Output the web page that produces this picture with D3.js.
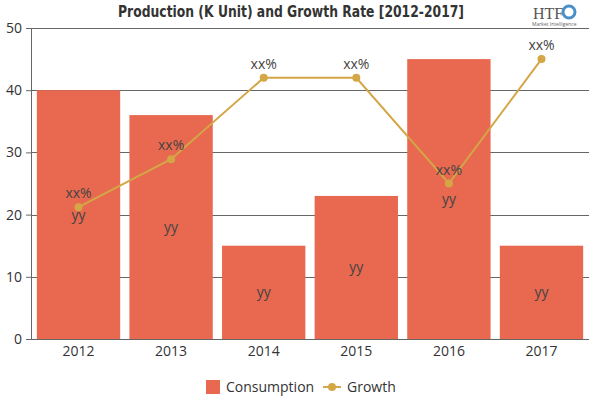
<!DOCTYPE html>
<html>
<head>
<meta charset="utf-8">
<script src="https://cdn.jsdelivr.net/npm/d3@7"></script>
<style>
  body { margin: 0; background: #fff; }
  text { font-family: "Open Sans", "Noto Sans", sans-serif; }
</style>
</head>
<body>
<svg id="chart" width="600" height="400"></svg>
<script>
var years = ['2012', '2013', '2014', '2015', '2016', '2017'];
var consumption = [40, 36, 15, 23, 45, 15];
var growth = [21.2, 28.9, 42, 42, 25, 45];
var barLabels = ['yy', 'yy', 'yy', 'yy', 'yy', 'yy'];
var growthLabels = ['xx%', 'xx%', 'xx%', 'xx%', 'xx%', 'xx%'];
var yTicks = [0, 10, 20, 30, 40, 50];

var barColor = '#e8694f';
var lineColor = '#d4a646';
var plotLeft = 31, plotRight = 589, plotTop = 28, plotBottom = 339;

var svg = d3.select('#chart');

var x = d3.scaleBand().domain(years).range([plotLeft, plotRight]).paddingInner(0.1).paddingOuter(0.063);
var y = d3.scaleLinear().domain([0, 50]).range([plotBottom, plotTop]);

// gridlines behind bars
svg.append('g').selectAll('line').data(yTicks).enter().append('line')
  .attr('x1', plotLeft).attr('x2', plotRight)
  .attr('y1', function(d){ return Math.round(y(d)) + 0.5; })
  .attr('y2', function(d){ return Math.round(y(d)) + 0.5; })
  .attr('stroke', '#666').attr('stroke-width', 1);

// bars
svg.append('g').selectAll('rect').data(consumption).enter().append('rect')
  .attr('x', function(d, i){ return x(years[i]); })
  .attr('y', function(d){ return y(d); })
  .attr('width', x.bandwidth())
  .attr('height', function(d){ return plotBottom - y(d); })
  .attr('fill', barColor);

// axes
var yAxis = svg.append('g').attr('transform', 'translate(' + plotLeft + ',0)')
  .call(d3.axisLeft(y).tickValues(yTicks).tickSize(5).tickPadding(4));
var xAxis = svg.append('g').attr('transform', 'translate(0,' + plotBottom + ')')
  .call(d3.axisBottom(x).tickSize(0).tickPadding(7));
xAxis.select('.domain').attr('d', 'M' + (plotLeft - 5) + ',0.5H' + plotRight);
[yAxis, xAxis].forEach(function(a){
  a.selectAll('path, line').attr('stroke', '#666');
  a.selectAll('text').attr('fill', '#333').style('font-size', '14px');
});

// bar value labels
svg.append('g').selectAll('text').data(consumption).enter().append('text')
  .attr('x', function(d, i){ return x(years[i]) + x.bandwidth() / 2; })
  .attr('y', function(d){ return (y(d) + plotBottom) / 2 + 5; })
  .attr('text-anchor', 'middle')
  .attr('fill', '#444').style('font-size', '14px')
  .text(function(d, i){ return barLabels[i]; });

// growth line
var line = d3.line()
  .x(function(d, i){ return x(years[i]) + x.bandwidth() / 2; })
  .y(function(d){ return y(d); });
svg.append('path').datum(growth)
  .attr('d', line).attr('fill', 'none')
  .attr('stroke', lineColor).attr('stroke-width', 2);
svg.append('g').selectAll('circle').data(growth).enter().append('circle')
  .attr('cx', function(d, i){ return x(years[i]) + x.bandwidth() / 2; })
  .attr('cy', function(d){ return y(d); })
  .attr('r', 4).attr('fill', lineColor);
svg.append('g').selectAll('text').data(growth).enter().append('text')
  .attr('x', function(d, i){ return x(years[i]) + x.bandwidth() / 2; })
  .attr('y', function(d){ return y(d) - 9; })
  .attr('text-anchor', 'middle')
  .attr('fill', '#444').style('font-size', '14px')
  .text(function(d, i){ return growthLabels[i]; });

// title
svg.append('text')
  .attr('x', 291).attr('y', 17)
  .attr('text-anchor', 'middle')
  .attr('textLength', 346).attr('lengthAdjust', 'spacingAndGlyphs')
  .style('font-family', '"DejaVu Sans Condensed", sans-serif')
  .style('font-weight', 'bold').style('font-size', '15px')
  .attr('fill', '#333')
  .text('Production (K Unit) and Growth Rate [2012-2017]');

// logo
var logo = svg.append('g');
logo.append('text').attr('x', 533).attr('y', 19)
  .style('font-family', '"Liberation Serif", serif').style('font-size', '16px')
  .attr('fill', '#555').text('HTF');
logo.append('circle').attr('cx', 569).attr('cy', 12).attr('r', 6)
  .attr('fill', 'none').attr('stroke', '#4a8fc9').attr('stroke-width', 3);
logo.append('text').attr('x', 532).attr('y', 26)
  .style('font-size', '5px').attr('fill', '#666').text('Market Intelligence');

// legend
var lg = svg.append('g');
lg.append('rect').attr('x', 206).attr('y', 380).attr('width', 14).attr('height', 14).attr('fill', barColor);
lg.append('text').attr('x', 226).attr('y', 392).style('font-size', '14px').attr('fill', '#333').text('Consumption');
lg.append('line').attr('x1', 323).attr('x2', 341).attr('y1', 387).attr('y2', 387)
  .attr('stroke', lineColor).attr('stroke-width', 2);
lg.append('circle').attr('cx', 332).attr('cy', 387).attr('r', 4).attr('fill', lineColor);
lg.append('text').attr('x', 347).attr('y', 392).style('font-size', '14px').attr('fill', '#333').text('Growth');
</script>
</body>
</html>
